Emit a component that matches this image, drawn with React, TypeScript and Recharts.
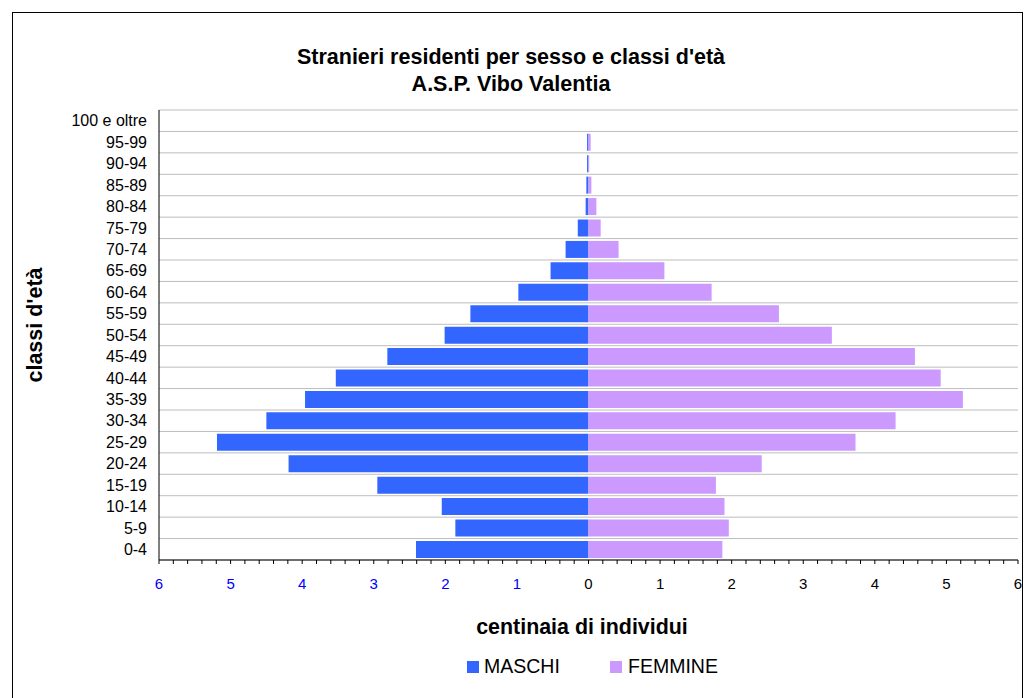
// Piramide d'età degli stranieri residenti - A.S.P. Vibo Valentia
import React from "react";
import { BarChart, Bar, XAxis, YAxis, CartesianGrid } from "recharts";

const categories = [
  "100 e oltre", "95-99", "90-94", "85-89", "80-84", "75-79", "70-74",
  "65-69", "60-64", "55-59", "50-54", "45-49", "40-44", "35-39",
  "30-34", "25-29", "20-24", "15-19", "10-14", "5-9", "0-4",
];

// centinaia di individui
const maschi = [
  0, 0.02, 0.02, 0.03, 0.04, 0.15, 0.32, 0.53, 0.98, 1.65, 2.01,
  2.81, 3.53, 3.96, 4.5, 5.19, 4.19, 2.95, 2.05, 1.86, 2.41,
];
const femmine = [
  0, 0.03, 0.01, 0.04, 0.11, 0.17, 0.42, 1.06, 1.72, 2.66, 3.4,
  4.56, 4.92, 5.23, 4.29, 3.73, 2.42, 1.78, 1.9, 1.96, 1.87,
];

const xTickLabels = [-6, -5, -4, -3, -2, -1, 0, 1, 2, 3, 4, 5, 6];

const FONT = "'Liberation Sans', Arial, sans-serif";
const MALE = "#3366ff";
const FEMALE = "#cc99ff";

const data = categories.map((name, i) => ({
  name,
  maschi: -maschi[i],
  femmine: femmine[i],
}));

// minor ticks every 0.2, labels only on the integers
const xTicks = Array.from({ length: 61 }, (_, i) => Math.round((-6 + i * 0.2) * 10) / 10);
// tick marks / grid lines on the band edges
const bandEdges = Array.from({ length: categories.length + 1 }, (_, i) => i);

function XTick({ x, y, payload }: any) {
  const v = payload.value;
  if (!xTickLabels.includes(v)) return <g />;
  return (
    <text x={x} y={y} dy="0.71em" textAnchor="middle" fontSize={15} fontFamily={FONT}
      fill={v < 0 ? "#0000ff" : "#000"}>
      {Math.abs(v)}
    </text>
  );
}

export default function App() {
  return (
    <div style={{ position: "absolute", left: 0, top: 0, width: 1028, height: 698, overflow: "hidden", background: "#fff", fontFamily: FONT }}>
      <div style={{ position: "absolute", left: 12, top: 12, width: 1009, height: 720, border: "1px solid #000" }} />
      <div style={{ position: "absolute", left: 0, top: 0 }}>
        <BarChart
          width={1028}
          height={698}
          data={data}
          layout="vertical"
          stackOffset="sign"
          barCategoryGap="11%"
          margin={{ top: 110, right: 10, bottom: 108, left: 59 }}
        >
          <CartesianGrid
            vertical={false}
            stroke="#bdbdbd"
            horizontalCoordinatesGenerator={({ offset }: any) =>
              bandEdges.map((i) => offset.top + (i * offset.height) / categories.length)
            }
          />
          <XAxis
            type="number"
            domain={[-6, 6]}
            ticks={xTicks}
            interval={0}
            height={30}
            tickSize={4}
            tickMargin={14}
            tick={<XTick />}
            axisLine={{ stroke: "#000" }}
            tickLine={{ stroke: "#000" }}
          />
          <YAxis
            yAxisId={0}
            type="number"
            domain={[0, categories.length]}
            ticks={bandEdges}
            interval={0}
            width={10}
            tick={false}
            tickSize={6}
            axisLine={{ stroke: "#000" }}
            tickLine={{ stroke: "#000" }}
          />
          <YAxis
            yAxisId="cat"
            type="category"
            dataKey="name"
            width={90}
            tickSize={0}
            tickMargin={2}
            axisLine={false}
            tickLine={false}
            interval={0}
            tick={{ fontSize: 16, fill: "#000", fontFamily: FONT }}
          />
          <Bar dataKey="maschi" stackId="a" yAxisId="cat" fill={MALE} isAnimationActive={false} />
          <Bar dataKey="femmine" stackId="a" yAxisId="cat" fill={FEMALE} isAnimationActive={false} />
        </BarChart>
      </div>
      <svg width={1028} height={698} style={{ position: "absolute", left: 0, top: 0, pointerEvents: "none" }}>
        <g fontFamily={FONT} fill="#000">
          <text x={511} y={64} textAnchor="middle" fontSize={21.5} fontWeight="bold">
            Stranieri residenti per sesso e classi d'età
          </text>
          <text x={511} y={91} textAnchor="middle" fontSize={21.5} fontWeight="bold">
            A.S.P. Vibo Valentia
          </text>
          <text x={582} y={634} textAnchor="middle" fontSize={21.4} fontWeight="bold">
            centinaia di individui
          </text>
          <text transform="translate(42,325) rotate(-90)" textAnchor="middle" fontSize={21.5} fontWeight="bold">
            classi d'età
          </text>
          <rect x={467} y={661} width={12} height={12} fill={MALE} />
          <text x={484} y={673} fontSize={19.5}>MASCHI</text>
          <rect x={610} y={661} width={12} height={12} fill={FEMALE} />
          <text x={628} y={673} fontSize={19.5}>FEMMINE</text>
        </g>
      </svg>
    </div>
  );
}
